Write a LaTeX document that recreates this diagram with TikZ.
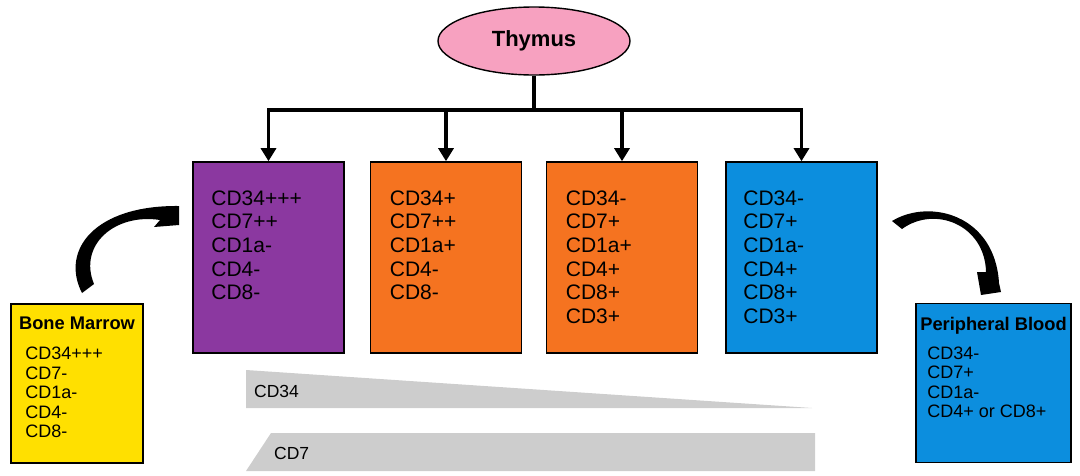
\documentclass[tikz,border=0pt]{standalone}
\usepackage{fontspec}
\setmainfont{Liberation Sans}
\usetikzlibrary{arrows.meta,shapes.geometric}
\definecolor{thypink}{RGB}{247,161,192}
\definecolor{dnpurple}{RGB}{139,56,160}
\definecolor{dporange}{RGB}{245,115,32}
\definecolor{spblue}{RGB}{12,142,222}
\definecolor{bmyellow}{RGB}{255,224,0}
\definecolor{wedgegray}{RGB}{205,205,205}

\begin{document}
\begin{tikzpicture}[x=1pt,y=-1pt,>={Triangle[width=15pt,length=13pt]},
  stage/.style={draw,line width=1.6pt,minimum width=151pt,minimum height=191pt,inner sep=0pt},
  side/.style={draw,line width=1.6pt,minimum height=159pt,inner sep=0pt},
  conn/.style={line width=3.1pt},
  cdlist/.style={font=\fontsize{21}{23.7}\selectfont,align=left,anchor=north west,inner sep=0pt},
  bmlist/.style={font=\fontsize{18}{19.5}\selectfont,align=left,anchor=north west,inner sep=0pt},
  boxtitle/.style={font=\fontsize{18.3}{20}\selectfont\bfseries,anchor=north,inner sep=0pt},
  wedgelabel/.style={font=\fontsize{17.5}{19}\selectfont,anchor=base west,inner sep=0pt},
  swoop/.style={fill=black}]
\useasboundingbox (0,0) rectangle (1080,475);
\node[ellipse,draw,line width=1.4pt,fill=thypink,minimum width=192pt,minimum height=68pt,font=\fontsize{22}{24}\selectfont\bfseries] (thy) at (534,41) {Thymus};
\node[stage,fill=dnpurple] (p1) at (268.5,257.5) {};
\node[stage,fill=dporange] (p2) at (446,257.5) {};
\node[stage,fill=dporange] (p3) at (622,257.5) {};
\node[stage,fill=spblue] (p4) at (801.5,257.5) {};
\node[cdlist] (p1t) at ([xshift=19pt,yshift=-29pt]p1.north west) {CD34+++\\CD7++\\CD1a-\\CD4-\\CD8-};
\node[cdlist] (p2t) at ([xshift=20pt,yshift=-29pt]p2.north west) {CD34+\\CD7++\\CD1a+\\CD4-\\CD8-};
\node[cdlist] (p3t) at ([xshift=20pt,yshift=-29pt]p3.north west) {CD34-\\CD7+\\CD1a+\\CD4+\\CD8+\\CD3+};
\node[cdlist] (p4t) at ([xshift=18pt,yshift=-29pt]p4.north west) {CD34-\\CD7+\\CD1a-\\CD4+\\CD8+\\CD3+};
\coordinate (bar) at (534,110);
\draw[conn] (thy.south) -- (bar);
\foreach \b in {p1,p2,p3,p4} \draw[conn,->] (bar) -| (\b.north);
\node[side,fill=bmyellow,minimum width=132pt] (bm) at (77,383.5) {};
\node[boxtitle] (bmh) at ([yshift=-14pt]bm.north) {Bone Marrow};
\node[bmlist] (bmt) at ([xshift=15pt,yshift=-44pt]bm.north west) {CD34+++\\CD7-\\CD1a-\\CD4-\\CD8-};
\node[side,fill=spblue,minimum width=155pt] (pb) at (993.5,383) {};
\node[boxtitle] (pbh) at ([yshift=-14pt]pb.north) {Peripheral Blood};
\node[bmlist] (pbt) at ([xshift=12pt,yshift=-44pt]pb.north west) {CD34-\\CD7+\\CD1a-\\CD4+ or CD8+};
\fill[wedgegray] (246,370) -- (812,408) -- (246,408) -- cycle;
\node[wedgelabel] (cd34) at (254,397) {CD34};
\fill[wedgegray] (271,433) -- (815,433) -- (815,471) -- (246,471) -- cycle;
\node[wedgelabel] (cd7) at (274,459) {CD7};
% bone marrow -> thymus
\coordinate (bmtail) at (82,293);
\coordinate (bmtip) at (179,206);
\fill[swoop] (bmtail) .. controls (60,250) and (95,205) .. (bmtip) -- (179,225) -- (154,227) -- (160,220)
  .. controls (115,213) and (78,245) .. (94,284) -- cycle;
% thymus -> peripheral blood
\coordinate (pbtail) at (892,221);
\coordinate (pbtip) at (981,295);
\fill[swoop] (pbtail) .. controls (930,198) and (995,215) .. (999,283) -- (1001,292) -- (pbtip) -- (977,272) -- (986,272)
  .. controls (985,225) and (935,205) .. (902,229) -- cycle;
\end{tikzpicture}
\end{document}
